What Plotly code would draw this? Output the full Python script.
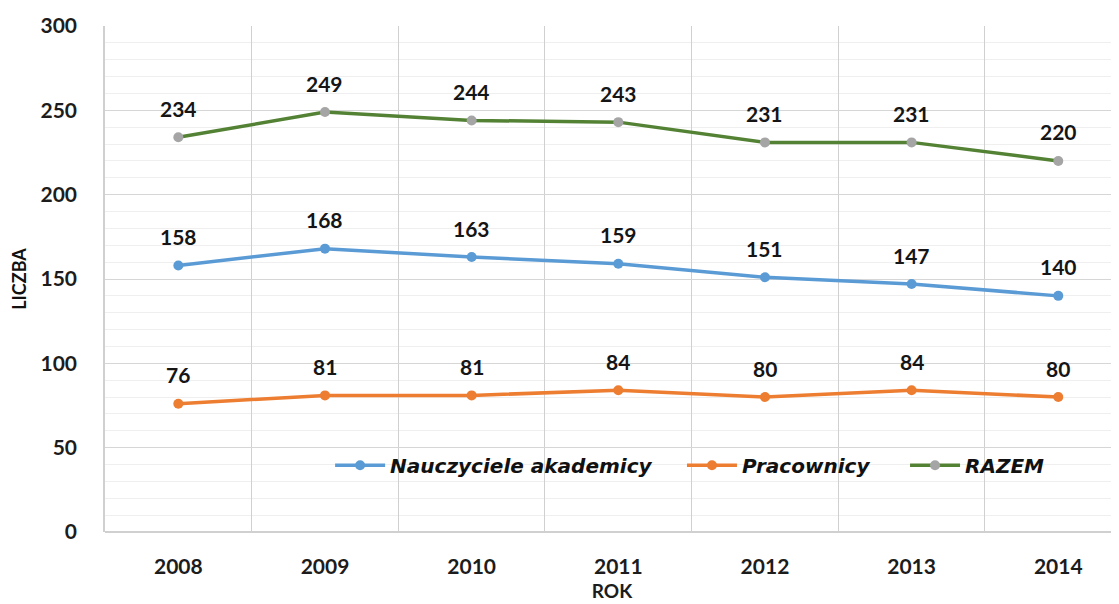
import plotly.graph_objects as go

years = ["2008", "2009", "2010", "2011", "2012", "2013", "2014"]
nauczyciele = [158, 168, 163, 159, 151, 147, 140]
pracownicy = [76, 81, 81, 84, 80, 84, 80]
razem = [234, 249, 244, 243, 231, 231, 220]

series = [
    ("Nauczyciele akademicy", nauczyciele, "#5B9BD5", "#5B9BD5", "legend"),
    ("Pracownicy", pracownicy, "#ED7D31", "#ED7D31", "legend2"),
    ("RAZEM", razem, "#548235", "#A5A5A5", "legend3"),
]

fig = go.Figure()
for name, vals, line_col, mark_col, leg in series:
    fig.add_trace(go.Scatter(
        x=years, y=vals, name=name, mode="lines+markers", legend=leg,
        line=dict(color=line_col, width=3.5),
        marker=dict(color=mark_col, size=10),
    ))
    # data labels above the points (x as category index, "2008" would be read as an index)
    for i, v in enumerate(vals):
        fig.add_annotation(x=i, y=v, text=str(v), showarrow=False, yshift=29,
                           font=dict(family="Lato", size=21, color="#151515", weight="bold"))

tick_font = dict(family="Lato", size=21, color="#1c1c1c", weight="bold")
leg_font = dict(family="DejaVu Sans", size=20, color="#111111", weight="bold", style="italic")


def legend_at(x):
    return dict(orientation="h", x=x, y=0.132, xanchor="left", yanchor="middle",
                bgcolor="rgba(0,0,0,0)", font=leg_font, itemwidth=50)


# page body has an 8px margin, so the figure is 8px smaller than the window
fig.update_layout(
    width=1111, height=596,
    margin=dict(l=97, r=0, t=18, b=72),
    plot_bgcolor="white", paper_bgcolor="white",
    font=dict(family="Lato", color="#1c1c1c"),
    showlegend=True,
    legend=legend_at(0.222),
    legend2=legend_at(0.569),
    legend3=legend_at(0.789),
    xaxis=dict(
        type="category", range=[-0.5, 6.414], automargin=False,
        tickson="boundaries", ticks="", showgrid=True, gridcolor="#D0D0D0", gridwidth=1,
        showline=False, ticklabelstandoff=20,
        tickfont=tick_font,
        title=dict(text="ROK", font=dict(family="Lato", size=19, color="#1c1c1c", weight="bold"), standoff=7),
    ),
    yaxis=dict(
        range=[0, 300], dtick=50, automargin=False,
        showgrid=True, gridcolor="#D6D6D6", gridwidth=1,
        minor=dict(dtick=10, showgrid=True, gridcolor="#EFEFEF", gridwidth=1),
        zeroline=True, zerolinecolor="#D0D0D0", zerolinewidth=1.5,
        showline=True, linecolor="#D0D0D0", linewidth=1.5,
        ticklabelstandoff=22,
        tickfont=tick_font,
        title=dict(text="LICZBA", font=dict(family="Lato", size=18, color="#111111", weight="bold"), standoff=9),
    ),
)

fig.write_html("out.html")
